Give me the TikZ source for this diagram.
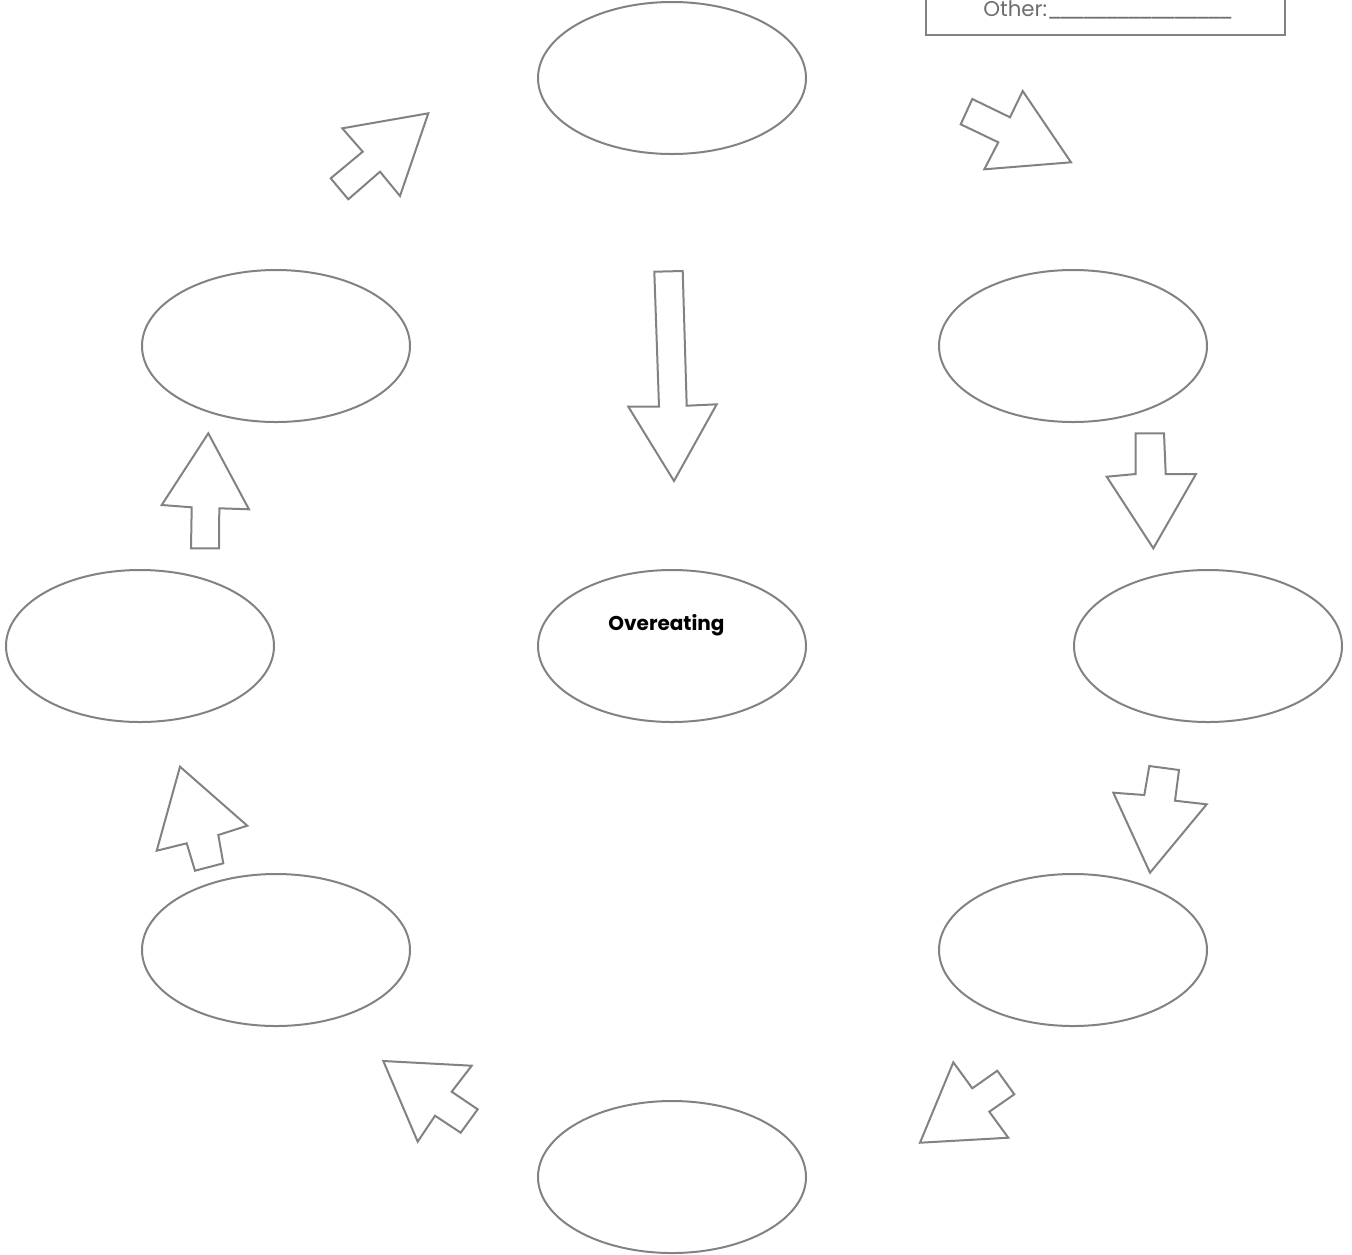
\documentclass[tikz,border=0pt]{standalone}
\usepackage{fontspec}
\setmainfont{Poppins}
\usetikzlibrary{shapes.geometric}
\definecolor{lineg}{HTML}{808285}
\definecolor{textg}{HTML}{6D6E71}
\newcommand\myus{\_\kern-0.2em}
\tikzset{
  bubble/.style={ellipse, draw=lineg, line width=1.5pt, minimum width=201pt, minimum height=114pt, inner sep=0pt},
  blockarrow/.style={draw=lineg, line width=1.5pt, line join=miter, fill=white},
}
\begin{document}
\begin{tikzpicture}[x=0.75pt,y=-0.75pt]
\useasboundingbox (0,0) rectangle (1352,1254);
% legend box
\draw[draw=lineg, line width=1.5pt] (926,-20) rectangle (1285,35);
\node[font=\fontsize{16pt}{18pt}\selectfont, text=textg, anchor=base west, inner sep=0pt] (other) at (983,16) {Other:\myus\myus\myus\myus\myus\myus\myus\myus\myus\myus\myus\myus\myus\myus\myus\_};
% ellipses
\node[bubble] (top) at (672,78) {};
\node[bubble] (lu) at (276,346) {};
\node[bubble] (ru) at (1073,346) {};
\node[bubble] (lm) at (140,646) {};
\node[bubble] (cm) at (672,646) {};
\node[bubble] (rm) at (1208,646) {};
\node[bubble] (ll) at (276,950) {};
\node[bubble] (rl) at (1073,950) {};
\node[bubble] (bot) at (672,1177) {};
\node[font=\bfseries\fontsize{15pt}{17pt}\selectfont, inner sep=0pt, anchor=base] (ctext) at (666.5,630) {Overeating};
% block arrows
\draw[blockarrow] (428.3,113.3) -- (342.3,128.3) -- (362.7,151.7) -- (330.7,178.3) -- (348.3,199.3) -- (380,171.7) -- (400,196) -- cycle;
\draw[blockarrow] (972.3,99) -- (1010,117.3) -- (1022.7,91) -- (1071,162.3) -- (984.3,169.3) -- (998.3,142.3) -- (960.7,124.3) -- cycle;
\draw[blockarrow] (654.3,271.7) -- (682.7,271) -- (686.7,405.7) -- (716.7,404.3) -- (674,481) -- (628.3,406.7) -- (659,406.7) -- cycle;
\draw[blockarrow] (1135.7,433.3) -- (1164,433.3) -- (1165.7,474) -- (1196,474) -- (1153.3,548.3) -- (1106.7,476.7) -- (1135.7,474) -- cycle;
\draw[blockarrow] (1149.3,766) -- (1179,770) -- (1175,800.7) -- (1206.7,804.3) -- (1150,872.7) -- (1113.3,792.7) -- (1144.3,795) -- cycle;
\draw[blockarrow] (953.3,1062.3) -- (972.3,1088.3) -- (997.3,1070.7) -- (1014.3,1094.3) -- (989.3,1111.7) -- (1008.3,1137.7) -- (920,1142.7) -- cycle;
\draw[blockarrow] (383.3,1061) -- (471.7,1065.7) -- (451.7,1091.7) -- (477.7,1109.3) -- (460.7,1132.7) -- (435,1115.7) -- (417.7,1141.7) -- cycle;
\draw[blockarrow] (180,766.7) -- (247.3,825.7) -- (218.3,835) -- (223.3,863.3) -- (195,870.7) -- (186.7,843.3) -- (156.7,850.7) -- cycle;
\draw[blockarrow] (208.3,433.3) -- (249,509.3) -- (219.3,508.3) -- (219,548.3) -- (191,548.3) -- (191.7,507.3) -- (161.7,505) -- cycle;
\end{tikzpicture}
\end{document}
